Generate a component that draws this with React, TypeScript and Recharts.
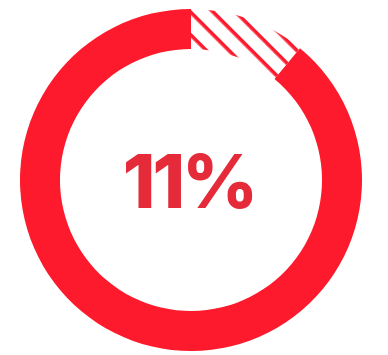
import { PieChart, Pie, Cell } from "recharts"

const segments = ["share", "rest"]
const values = [11, 89]
const centerLabel = "11%"

const data = segments.map((name, i) => ({ name, value: values[i] }))

export default function App() {
  return (
    <div style={{ width: 380, height: 347 }}>
      <PieChart width={380} height={347} margin={{ top: 0, right: 0, bottom: 0, left: 0 }}>
        <defs>
          <pattern
            id="hatch"
            patternUnits="userSpaceOnUse"
            width={16}
            height={16}
            patternTransform="rotate(45)"
          >
            <rect x={0} y={0} width={16} height={16} fill="#ffffff" />
            <rect x={0} y={0} width={16} height={3.6} fill="#fe1a2d" />
          </pattern>
        </defs>
        <Pie
          data={data}
          dataKey="value"
          cx={183}
          cy={172}
          innerRadius={131}
          outerRadius={171}
          startAngle={90}
          endAngle={-270}
          stroke="none"
          isAnimationActive={false}
        >
          <Cell fill="url(#hatch)" />
          <Cell fill="#fe1a2d" />
        </Pie>
        <text
          x={181}
          y={200}
          textAnchor="middle"
          fill="#e52b3a"
          style={{ fontFamily: "Inter", fontWeight: 800, fontSize: 74, letterSpacing: -3 }}
        >
          {centerLabel}
        </text>
      </PieChart>
    </div>
  )
}
